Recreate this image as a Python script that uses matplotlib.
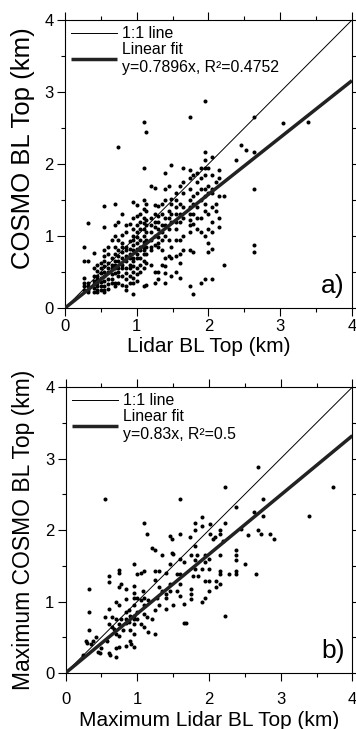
import numpy as np
import matplotlib
matplotlib.use('Agg')
import matplotlib.pyplot as plt
from matplotlib.ticker import MultipleLocator

plt.rcParams['font.family'] = ['Liberation Sans', 'DejaVu Sans']

# panel a: lidar BL top vs COSMO BL top (km), read column by column
cols_a = {
    0.27: [0.85, 0.65, 0.42, 0.35, 0.30, 0.25],
    0.32: [1.18, 0.65, 0.35, 0.30, 0.25, 0.22],
    0.40: [0.76, 0.55, 0.45, 0.38, 0.33, 0.28, 0.22],
    0.45: [0.60, 0.52, 0.45, 0.40, 0.35, 0.30, 0.25, 0.22],
    0.50: [0.62, 0.55, 0.48, 0.42, 0.36, 0.30, 0.25],
    0.55: [1.42, 1.13, 0.80, 0.72, 0.65, 0.58, 0.50, 0.44, 0.38, 0.30, 0.25, 0.22],
    0.60: [0.85, 0.75, 0.62, 0.55, 0.50, 0.40, 0.33, 0.27],
    0.65: [0.95, 0.70, 0.60, 0.55, 0.47, 0.40, 0.35],
    0.70: [1.44, 1.15, 1.00, 0.85, 0.75, 0.65, 0.60, 0.55, 0.48, 0.35, 0.30],
    0.74: [2.23, 1.20, 0.95, 0.80, 0.72, 0.65, 0.55, 0.50, 0.45, 0.35],
    0.79: [1.30, 1.02, 0.90, 0.85, 0.78, 0.70, 0.60, 0.55, 0.45, 0.32],
    0.85: [1.15, 1.05, 0.85, 0.80, 0.72, 0.65, 0.55, 0.48, 0.40, 0.30, 0.25],
    0.90: [1.17, 0.93, 0.82, 0.75, 0.70, 0.60, 0.55, 0.45, 0.35],
    0.95: [1.47, 1.25, 1.10, 1.00, 0.95, 0.87, 0.80, 0.70, 0.65, 0.58, 0.50, 0.42, 0.35, 0.20],
    1.00: [1.43, 1.28, 1.15, 1.05, 0.98, 0.90, 0.82, 0.75, 0.70, 0.55, 0.47, 0.38],
    1.04: [1.30, 1.20, 1.10, 0.95, 0.85, 0.80, 0.70, 0.60, 0.50],
    1.10: [2.59, 1.95, 1.50, 1.38, 1.25, 1.18, 1.10, 1.00, 0.92, 0.85, 0.80, 0.75, 0.65, 0.55, 0.30],
    1.13: [2.44, 1.45, 1.35, 1.22, 1.15, 1.05, 0.95, 0.85, 0.75, 0.62, 0.32],
    1.20: [1.70, 1.25, 1.15, 1.05, 0.95, 0.85, 0.80, 0.60],
    1.25: [1.67, 1.43, 1.30, 1.20, 1.12, 1.00, 0.88, 0.50, 0.35],
    1.30: [1.42, 1.28, 1.20, 1.10, 0.98, 0.90, 0.85, 0.50, 0.40],
    1.35: [1.45, 1.30, 1.15, 1.05, 0.95, 0.80, 0.60],
    1.40: [1.87, 1.65, 1.50, 1.25, 1.15, 1.00, 0.70, 0.58, 0.48, 0.35],
    1.45: [1.70, 1.35, 1.25, 1.10, 0.95, 0.72],
    1.48: [1.98, 1.52, 1.45, 1.30, 1.20, 0.85, 0.70, 0.45],
    1.55: [1.60, 1.50, 1.40, 1.30, 1.20, 1.10, 0.95, 0.72, 0.50],
    1.60: [1.70, 1.45, 1.30, 1.20, 0.95, 0.75, 0.62, 0.42],
    1.65: [1.95, 1.75, 1.60, 1.40, 1.25, 1.00, 0.80],
    1.74: [2.65, 1.92, 1.80, 1.65, 1.50, 1.40, 1.30, 1.22, 1.15, 1.05, 0.80, 0.30],
    1.78: [1.85, 1.55, 1.45, 1.30, 1.17, 0.78, 0.20],
    1.84: [1.88, 1.75, 1.60, 1.40, 1.25, 1.10],
    1.90: [1.95, 1.80, 1.65, 1.50, 1.25, 1.05, 0.35],
    1.95: [2.87, 2.17, 2.05, 1.95, 1.85, 1.65, 1.55, 1.45, 1.35, 1.00, 0.40],
    2.00: [1.95, 1.70, 1.60, 1.30, 1.10, 0.90, 0.78],
    2.05: [2.10, 1.85, 1.65, 1.60, 1.40, 1.20, 1.05, 0.82, 0.40],
    2.10: [1.75, 1.45, 1.35],
    2.15: [1.92, 1.80, 1.55, 1.25, 1.12],
    2.22: [1.55, 0.60],
    2.38: [2.05],
    2.45: [2.27],
    2.52: [2.20],
    2.64: [2.65, 2.17, 1.65, 0.87, 0.78],
    3.04: [2.57],
    3.39: [2.58],
}
lidar_a = [x for x, ys in cols_a.items() for _ in ys]
cosmo_a = [y for ys in cols_a.values() for y in ys]

# panel b: maximum lidar BL top vs maximum COSMO BL top (km)
lidar_b = [0.25, 0.28, 0.30, 0.33, 0.33, 0.33, 0.35, 0.38, 0.43, 0.45, 0.48, 0.50,
           0.55, 0.55, 0.58, 0.60, 0.60, 0.60, 0.60, 0.60, 0.62, 0.65, 0.65, 0.68,
           0.70, 0.70, 0.70, 0.70, 0.70, 0.75, 0.75, 0.75, 0.75, 0.75, 0.75, 0.75,
           0.78, 0.78, 0.80, 0.85, 0.85, 0.85, 0.85, 0.85, 0.85, 0.88, 0.88, 0.90,
           0.90, 0.90, 0.92, 0.95, 0.95, 0.95, 0.95, 0.95, 0.95, 0.95, 0.95, 0.95,
           0.95, 1.00, 1.00, 1.00, 1.00, 1.05, 1.05, 1.05, 1.08, 1.10, 1.10, 1.10,
           1.10, 1.10, 1.10, 1.13, 1.13, 1.15, 1.15, 1.20, 1.20, 1.25, 1.25, 1.25,
           1.25, 1.25, 1.28, 1.30, 1.30, 1.30, 1.35, 1.35, 1.40, 1.40, 1.40, 1.40,
           1.45, 1.45, 1.45, 1.45, 1.48, 1.48, 1.50, 1.50, 1.55, 1.55, 1.60, 1.60,
           1.60, 1.60, 1.60, 1.60, 1.65, 1.65, 1.65, 1.68, 1.73, 1.75, 1.75, 1.75,
           1.75, 1.78, 1.80, 1.80, 1.80, 1.80, 1.80, 1.83, 1.85, 1.90, 1.90, 1.90,
           1.90, 1.95, 1.95, 1.95, 1.95, 2.00, 2.00, 2.00, 2.00, 2.02, 2.02, 2.05,
           2.08, 2.10, 2.10, 2.15, 2.15, 2.15, 2.15, 2.15, 2.15, 2.20, 2.23, 2.23,
           2.23, 2.28, 2.38, 2.38, 2.38, 2.38, 2.38, 2.38, 2.45, 2.50, 2.55, 2.63,
           2.65, 2.68, 2.68, 2.72, 2.75, 2.75, 2.85, 2.90, 3.40, 3.73]
cosmo_b = [0.25, 0.45, 0.42, 1.18, 0.85, 0.60, 0.40, 0.45, 0.50, 0.30, 0.28, 0.35,
           0.78, 2.44, 0.45, 1.35, 1.27, 0.90, 0.68, 0.28, 0.25, 0.78, 0.65, 0.62,
           1.00, 0.75, 0.55, 0.35, 0.22, 1.44, 1.40, 1.20, 0.95, 0.68, 0.52, 0.37,
           1.25, 0.75, 0.60, 1.17, 1.03, 0.85, 0.75, 0.70, 0.38, 0.88, 0.72, 0.80,
           0.60, 0.45, 0.40, 1.52, 1.22, 1.12, 1.05, 0.95, 0.80, 0.75, 0.68, 0.55,
           0.37, 1.05, 1.38, 0.85, 0.75, 1.40, 1.02, 0.68, 1.15, 2.10, 1.42, 1.05,
           0.95, 0.82, 0.65, 1.95, 0.78, 1.02, 0.58, 1.75, 0.75, 1.72, 1.42, 1.30,
           0.88, 0.55, 1.05, 1.43, 1.20, 0.95, 1.65, 1.15, 1.40, 1.10, 1.05, 0.90,
           1.92, 1.52, 1.25, 1.15, 1.68, 1.87, 1.67, 0.95, 1.38, 1.15, 2.44, 1.94,
           1.60, 1.38, 1.25, 1.08, 1.55, 0.97, 0.70, 0.70, 1.90, 1.65, 1.18, 1.10,
           1.03, 1.35, 2.10, 2.00, 1.78, 1.58, 1.45, 1.65, 1.35, 2.18, 2.05, 1.45,
           1.00, 1.65, 1.55, 1.28, 1.05, 1.60, 1.45, 1.28, 1.15, 1.95, 2.08, 1.88,
           1.90, 1.20, 1.28, 2.00, 1.95, 1.65, 1.42, 1.38, 1.25, 1.85, 2.60, 2.10,
           0.80, 1.38, 2.32, 1.72, 1.65, 1.58, 1.42, 1.38, 2.02, 1.53, 1.93, 2.25,
           1.38, 2.88, 2.00, 1.95, 2.43, 2.20, 1.95, 1.88, 2.20, 2.60]

slopes = [0.7896, 0.83]
fit_labels = ['Linear fit\ny=0.7896x, R²=0.4752', 'Linear fit\ny=0.83x, R²=0.5']
xlabels = ['Lidar BL Top (km)', 'Maximum Lidar BL Top (km)']
ylabels = ['COSMO BL Top (km)', 'Maximum COSMO BL Top (km)']
ylabel_sizes = [18.5, 16.5]
panel_tags = ['a)', 'b)']

fig = plt.figure(figsize=(3.56, 7.29), dpi=100)
ax_a = fig.add_axes([0.1826, 0.5775, 0.806, 0.395])
ax_b = fig.add_axes([0.1840, 0.0768, 0.806, 0.3923])

data = [(lidar_a, cosmo_a), (lidar_b, cosmo_b)]
line_x = np.array([0, 4])
xpads = [2, 8]
xlabel_y = [-0.135, -0.165]
ylabel_y = [0.555, 0.5]

for i, ax in enumerate([ax_a, ax_b]):
    xs, ys = data[i]
    ax.plot(xs, ys, 'o', color='black', ms=2.9, mew=0, zorder=3)
    ax.plot(line_x, line_x, color='black', lw=0.7, label='1:1 line', zorder=4)
    ax.plot(line_x, slopes[i] * line_x, color='#222222', lw=2.5,
            label=fit_labels[i], zorder=4, solid_capstyle='butt')
    ax.set_xlim(0, 4)
    ax.set_ylim(0, 4)
    ax.xaxis.set_major_locator(MultipleLocator(1))
    ax.yaxis.set_major_locator(MultipleLocator(1))
    ax.xaxis.set_minor_locator(MultipleLocator(0.5))
    ax.yaxis.set_minor_locator(MultipleLocator(0.5))
    ax.tick_params(which='both', direction='out', top=True, right=True,
                   labelsize=12, width=0.8, pad=2)
    ax.tick_params(axis='x', pad=xpads[i])
    ax.tick_params(which='major', length=6)
    ax.tick_params(which='minor', length=3)
    for s in ax.spines.values():
        s.set_linewidth(0.8)
    ax.set_xlabel(xlabels[i], fontsize=15)
    ax.set_ylabel(ylabels[i], fontsize=ylabel_sizes[i])
    ax.xaxis.set_label_coords(0.5, xlabel_y[i])
    ax.yaxis.set_label_coords(-0.148, ylabel_y[i])
    ax.xaxis.label.set_va('center')
    ax.yaxis.label.set_va('center')
    ax.legend(loc='upper left', frameon=False, fontsize=11.4, handlelength=2.9,
              handletextpad=0.3, labelspacing=0.05, borderaxespad=0.1,
              borderpad=0.3)
    ax.text(0.975, 0.035, panel_tags[i], transform=ax.transAxes, fontsize=19,
            ha='right', va='bottom')

fig.savefig('out.png', dpi=100)
